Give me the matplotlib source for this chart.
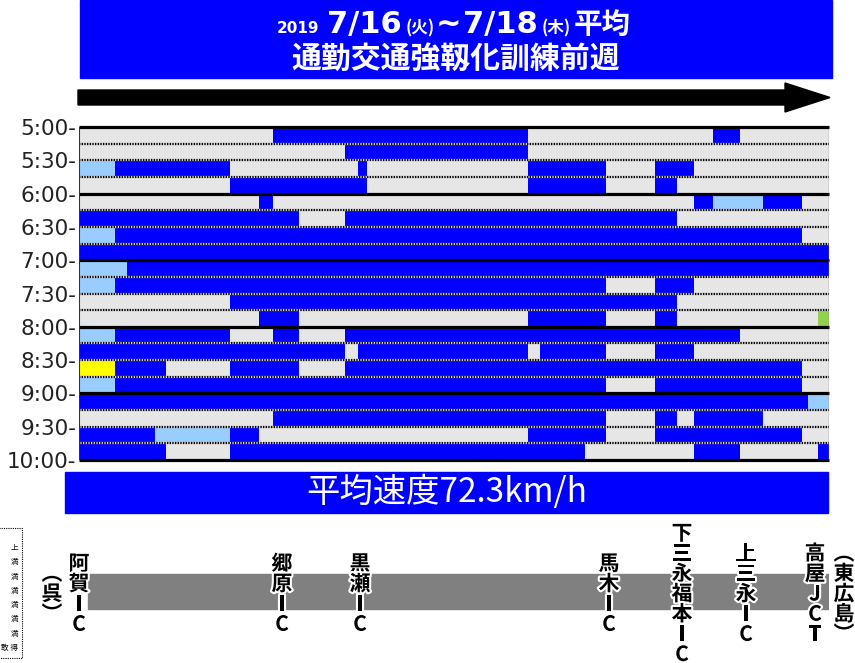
import matplotlib
matplotlib.use("Agg")
import matplotlib.pyplot as plt
from matplotlib.patches import Rectangle, Polygon
import matplotlib.patheffects as pe

# ---------------- data ----------------
# section boundaries along the route (relative position units, 呉 -> 東広島)
SECTION_EDGES = [0, 36, 48, 76, 87, 151, 180, 194, 220, 266, 279, 288, 449,
                 461, 506, 527, 576, 598, 615, 634, 661, 684, 723, 729, 739, 750]
START_MIN = 300          # 5:00
STEP_MIN = 15            # 15-minute rows
# one string per 15-minute row, one character per section
# g = free flow (grey), b = blue, l = light blue, y = yellow, G = green
ROWS = [
    "gggggggbbbbbgggggggbggggg",  # 5:00
    "gggggggggbbbggggggggggggg",  # 5:15
    "lbbbbgggggbgbbbgbbggggggg",  # 5:30
    "gggggbbbbbbgbbbgbgggggggg",  # 5:45
    "ggggggbgggggggggggbllbggg",  # 6:00
    "bbbbbbbbgbbbbbbbbgggggggg",  # 6:15
    "lbbbbbbbbbbbbbbbbbbbbbggg",  # 6:30
    "bbbbbbbbbbbbbbbbbbbbbbbbb",  # 6:45
    "llbbbbbbbbbbbbbbbbbbbbbbb",  # 7:00
    "lbbbbbbbbbbbbbbgbbggggggg",  # 7:15
    "gggggbbbbbbbbbbbbgggggggg",  # 7:30
    "ggggggbbggggbbbgbgggggggG",  # 7:45
    "lbbbbggbgbbbbbbbbbbbggggg",  # 8:00
    "bbbbbbbbbgbbgbbgbbggggggg",  # 8:15
    "ybbbgbbbgbbbbbbbbbbbbbggg",  # 8:30
    "lbbbbbbbbbbbbbbgbbbbbbggg",  # 8:45
    "bbbbbbbbbbbbbbbbbbbbbbbll",  # 9:00
    "gggggggbbbbbbbbgbgbbbgggg",  # 9:15
    "bbbllbggggggbbbgbbbbbbggg",  # 9:30
    "bbbbgbbbbbbbbbggggbbggggb",  # 9:45
]
COLORS = {"g": "#E6E6E6", "b": "#0000FF", "l": "#99CCFF",
          "y": "#FFFF00", "G": "#92D050"}
TICK_MINUTES = list(range(300, 601, 30))

IC_NAMES = ["阿賀IC", "郷原IC", "黒瀬IC", "馬木IC", "下三永福本IC", "上三永IC", "高屋JCT"]
IC_POS = [0, 203, 281, 530, 603, 667, 736]
END_NAMES = ["︵呉︶", "︵東広島︶"]
END_POS = [-27, 765]
ROAD_START, ROAD_END = 9, 749

TITLE_LINE2 = "通勤交通強靱化訓練前週"
AVG_TEXT = "平均速度72.3km/h"
LEGEND_SMALL = ["上", "満", "満", "満", "満", "満", "満", "敢 得"]

BLUE = "#0000FF"
CJK = ["Noto Sans CJK JP", "DejaVu Sans"]

# ---------------- figure ----------------
W, H = 855, 663
fig = plt.figure(figsize=(W / 100, H / 100), dpi=100)

# overlay in pixel coordinates for decorations
ov = fig.add_axes([0, 0, 1, 1])
ov.set_xlim(0, W)
ov.set_ylim(H, 0)
ov.axis("off")

# main time-space grid
ax = fig.add_axes([79 / W, 1 - 460 / H, 750 / W, 333 / H])
for r, row in enumerate(ROWS):
    assert len(row) == len(SECTION_EDGES) - 1
    y = START_MIN + r * STEP_MIN
    for c, code in enumerate(row):
        ax.barh(y + STEP_MIN / 2, SECTION_EDGES[c + 1] - SECTION_EDGES[c],
                left=SECTION_EDGES[c], height=STEP_MIN, color=COLORS[code],
                linewidth=0)
x0, x1 = SECTION_EDGES[0], SECTION_EDGES[-1]
ax.set_xlim(x0, x1)
ax.set_ylim(START_MIN + len(ROWS) * STEP_MIN, START_MIN)
for k in range(len(ROWS) + 1):
    yy = START_MIN + k * STEP_MIN
    if yy % 60 == 0:
        ax.hlines(yy, x0, x1, colors="black", lw=2.3, zorder=5, clip_on=False)
    else:
        ax.hlines(yy, x0, x1, colors="#cfcfcf", lw=1.6, zorder=4)
        ax.hlines(yy, x0, x1, colors="black", lw=1.6, zorder=5,
                  linestyles=(0, (0.6, 0.6)))
ax.vlines(x0, START_MIN, START_MIN + len(ROWS) * STEP_MIN, colors="#333333", lw=1.5, zorder=6)
ax.vlines(x1, START_MIN, START_MIN + len(ROWS) * STEP_MIN, colors="#8a8a8a", lw=1.0, zorder=6)
for s in ax.spines.values():
    s.set_visible(False)
ax.set_xticks([])
ax.set_yticks(TICK_MINUTES)
ax.set_yticklabels([f"{m // 60}:{m % 60:02d}-" for m in TICK_MINUTES],
                   fontsize=15.5, color="#222222", family="DejaVu Sans")
ax.tick_params(axis="y", length=0, pad=2)

# title box
ov.add_patch(Rectangle((80, 0), 752, 78, color=BLUE, zorder=1))
base = 33
bold_lat = dict(color="white", fontweight="bold", family="DejaVu Sans",
                va="baseline", ha="left", zorder=3)
bold_cjk = dict(color="white", fontweight="bold", family=CJK,
                va="baseline", ha="left", zorder=3)
ov.text(277, base, "2019", fontsize=11, **bold_lat)
ov.text(327, base, "7/16", fontsize=22, **bold_lat)
ov.text(406, base, "(火)", fontsize=12, **bold_cjk)
ov.text(436, base, "~", fontsize=22, **bold_lat)
ov.text(463, base, "7/18", fontsize=22, **bold_lat)
ov.text(542, base, "(木)", fontsize=12, **bold_cjk)
ov.text(574, base, "平均", fontsize=20.5, **bold_cjk)
ov.text(456, 58.5, TITLE_LINE2, fontsize=21.5, color="white", fontweight="bold",
        family=CJK, ha="center", va="center", zorder=3)

# direction arrow
ov.add_patch(Polygon([(78, 90), (785, 90), (785, 83), (830, 97.5),
                      (785, 112), (785, 105), (78, 105)],
                     closed=True, color="black", zorder=2))

# average speed box
ov.add_patch(Rectangle((65, 472), 763, 41, color=BLUE, zorder=1))
ov.text(447, 493, AVG_TEXT, fontsize=24, color="white", family=CJK,
        ha="center", va="center", zorder=3)

# small legend fragment at bottom-left
ov.add_patch(Rectangle((-2, 528), 23.5, 130, fill=False, ec="black", lw=0.8,
                       ls=(0, (1, 1)), zorder=2))
for i, t in enumerate(LEGEND_SMALL):
    ov.text(18, 548 + i * 14.3, t, fontsize=5.5, family=CJK, ha="right",
            va="center", color="black", zorder=3)

# road diagram
rd = fig.add_axes([79 / W, 0, 750 / W, 148 / H])
rd.set_xlim(x0, x1)
rd.set_ylim(663, 515)
rd.axis("off")
rd.add_patch(Rectangle((ROAD_START, 574), ROAD_END - ROAD_START, 35,
                       color="#808080", zorder=1))
glow = [pe.withStroke(linewidth=3, foreground="white")]
for name, pos in zip(IC_NAMES + END_NAMES, IC_POS + END_POS):
    rd.text(pos, 594, "\n".join(name), fontsize=15, fontweight="bold",
            family=CJK, ha="center", va="center", linespacing=0.95,
            color="black", path_effects=glow, clip_on=False, zorder=3,
            multialignment="center")

fig.savefig("out.png", dpi=100)
